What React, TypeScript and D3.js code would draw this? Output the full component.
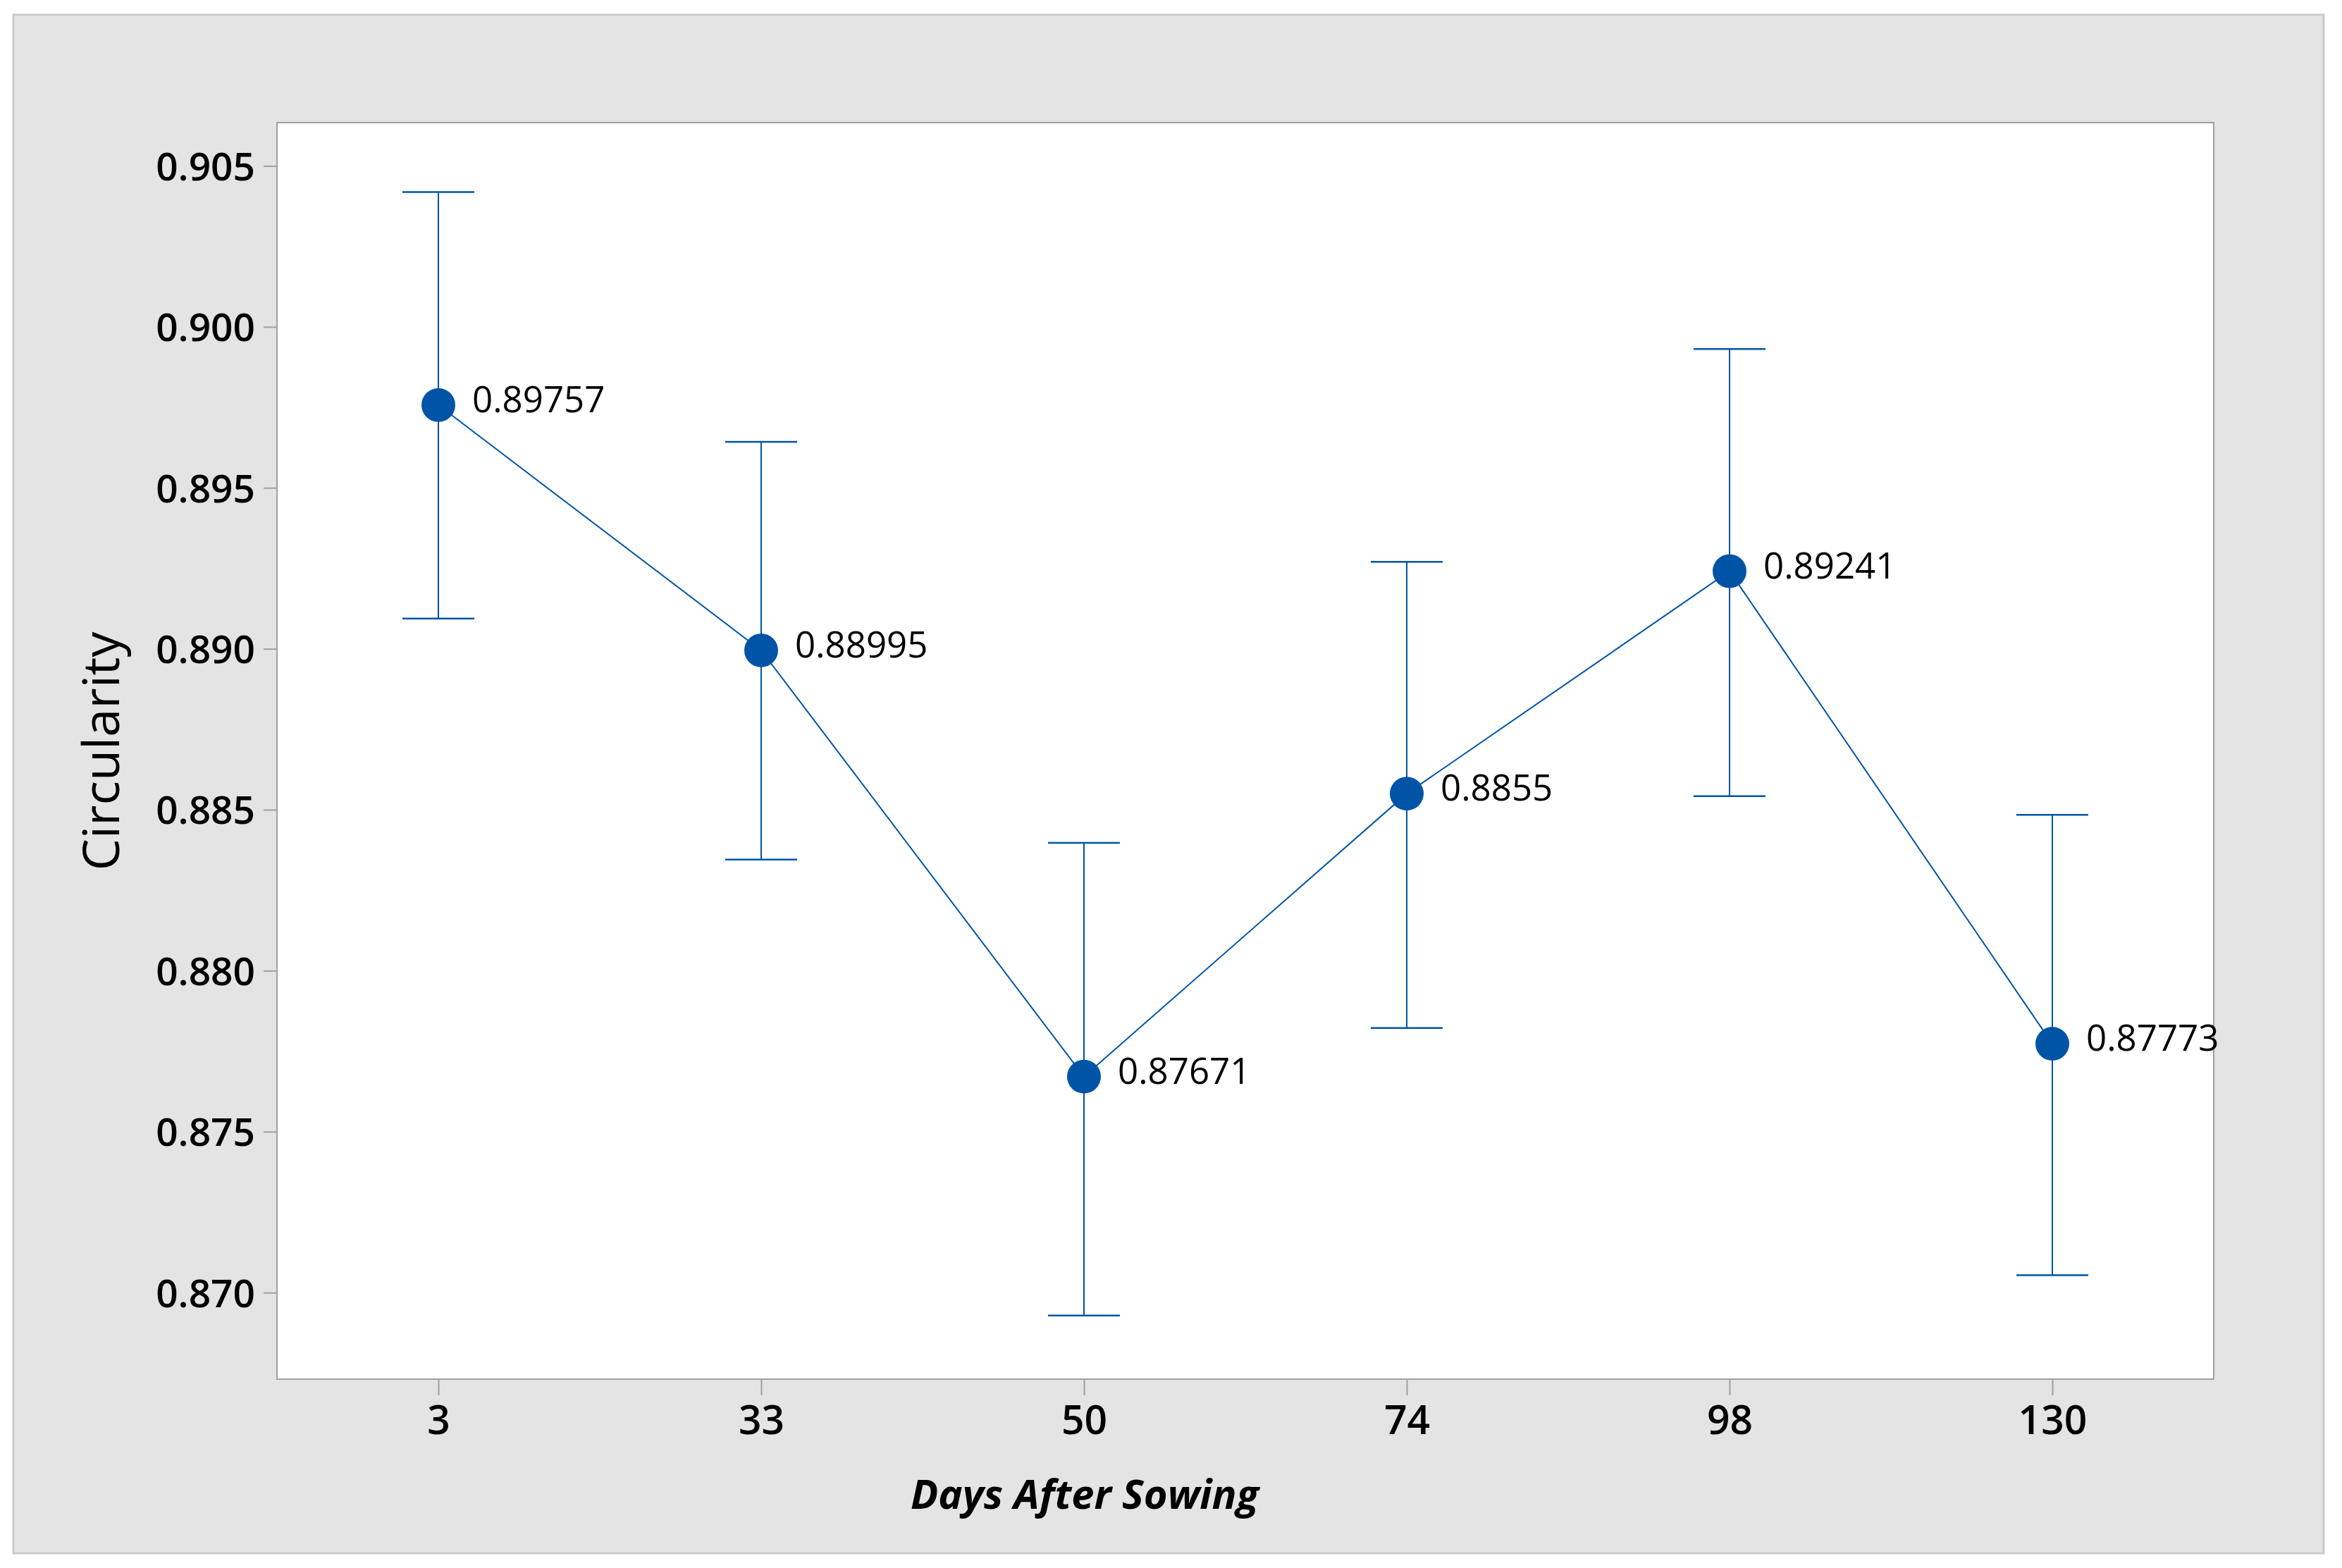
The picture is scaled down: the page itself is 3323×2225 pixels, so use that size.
import { useRef, useEffect } from "react";
import * as d3 from "d3";

// Days after sowing (categorical)
const days = ["3", "33", "50", "74", "98", "130"];
// Mean circularity and interval ends
const means = [0.89757, 0.88995, 0.87671, 0.8855, 0.89241, 0.87773];
const upper = [0.90419, 0.89643, 0.88397, 0.8927, 0.89931, 0.88484];
const lower = [0.89094, 0.88345, 0.86929, 0.87822, 0.88542, 0.87054];
const pointLabels = ["0.89757", "0.88995", "0.87671", "0.8855", "0.89241", "0.87773"];
const yTicks = [0.87, 0.875, 0.88, 0.885, 0.89, 0.895, 0.9, 0.905];

const WIDTH = 3323;
const HEIGHT = 2225;
const PLOT = { left: 393, top: 174, right: 3141, bottom: 1957 };
const FONT = "'Open Sans', 'Noto Sans', sans-serif";
const BLUE = "#0054a6";

export default function App() {
  const svgRef = useRef<SVGSVGElement>(null);

  useEffect(() => {
    const svg = d3.select(svgRef.current);
    svg.selectAll("*").remove();

    // outer frame
    svg.append("rect")
      .attr("x", 19).attr("y", 21)
      .attr("width", 3297 - 19).attr("height", 2204 - 21)
      .attr("fill", "#e4e4e4").attr("stroke", "#cacaca").attr("stroke-width", 3);

    // plot area
    svg.append("rect")
      .attr("x", PLOT.left).attr("y", PLOT.top)
      .attr("width", PLOT.right - PLOT.left).attr("height", PLOT.bottom - PLOT.top)
      .attr("fill", "#ffffff").attr("stroke", "#a0a0a0").attr("stroke-width", 2);

    const x = d3.scalePoint<string>().domain(days).range([PLOT.left, PLOT.right]).padding(0.5);
    const y = d3.scaleLinear().domain([0.867312, 0.906344]).range([PLOT.bottom, PLOT.top]);

    // y axis
    svg.append("g")
      .attr("transform", `translate(${PLOT.left},0)`)
      .call(d3.axisLeft(y).tickValues(yTicks).tickSize(19).tickFormat((d) => d3.format(".3f")(d as number)))
      .call((a) => a.select(".domain").remove())
      .call((a) => a.selectAll("line").attr("stroke", "#a0a0a0").attr("stroke-width", 2))
      .call((a) =>
        a.selectAll("text")
          .attr("x", -31).attr("dy", "0.36em")
          .attr("fill", "#000").attr("font-size", 55).attr("font-weight", 600).attr("font-family", FONT)
      );

    // x axis
    svg.append("g")
      .attr("transform", `translate(0,${PLOT.bottom})`)
      .call(d3.axisBottom(x).tickSize(23))
      .call((a) => a.select(".domain").remove())
      .call((a) => a.selectAll("line").attr("stroke", "#a0a0a0").attr("stroke-width", 2))
      .call((a) =>
        a.selectAll("text")
          .attr("y", 78).attr("dy", 0)
          .attr("fill", "#000").attr("font-size", 57).attr("font-weight", 600).attr("font-family", FONT)
      );

    // axis titles
    svg.append("text")
      .attr("transform", `translate(169,1066) rotate(-90)`)
      .attr("text-anchor", "middle")
      .attr("font-family", FONT).attr("font-size", 72)
      .attr("fill", "#000")
      .text("Circularity");

    svg.append("text")
      .attr("x", 1539).attr("y", 2141)
      .attr("text-anchor", "middle")
      .attr("font-family", FONT).attr("font-size", 58)
      .attr("font-weight", 700).attr("font-style", "italic")
      .attr("fill", "#000")
      .text("Days After Sowing");

    const g = svg.append("g");

    // interval bars
    days.forEach((d, i) => {
      const cx = x(d) as number;
      g.append("line")
        .attr("x1", cx).attr("x2", cx)
        .attr("y1", y(upper[i])).attr("y2", y(lower[i]))
        .attr("stroke", BLUE).attr("stroke-width", 2);
      for (const v of [upper[i], lower[i]]) {
        g.append("line")
          .attr("x1", cx - 51).attr("x2", cx + 51)
          .attr("y1", y(v)).attr("y2", y(v))
          .attr("stroke", BLUE).attr("stroke-width", 2.5);
      }
    });

    // connecting line
    const line = d3.line<number>()
      .x((_, i) => x(days[i]) as number)
      .y((v) => y(v));
    g.append("path")
      .datum(means)
      .attr("fill", "none")
      .attr("stroke", BLUE)
      .attr("stroke-width", 2)
      .attr("d", line);

    // mean points
    g.selectAll("circle")
      .data(means)
      .join("circle")
      .attr("cx", (_, i) => x(days[i]) as number)
      .attr("cy", (v) => y(v))
      .attr("r", 24)
      .attr("fill", BLUE);

    // data labels
    g.selectAll("text.lbl")
      .data(means)
      .join("text")
      .attr("class", "lbl")
      .attr("x", (_, i) => (x(days[i]) as number) + 48)
      .attr("y", (v) => y(v) + 10)
      .attr("font-family", FONT).attr("font-size", 51)
      .attr("fill", "#000")
      .text((_, i) => pointLabels[i]);
  }, []);

  return (
    <svg
      ref={svgRef}
      width={WIDTH}
      height={HEIGHT}
      viewBox={`0 0 ${WIDTH} ${HEIGHT}`}
      style={{ position: "absolute", left: 0, top: 0, background: "#fff", display: "block" }}
    />
  );
}
